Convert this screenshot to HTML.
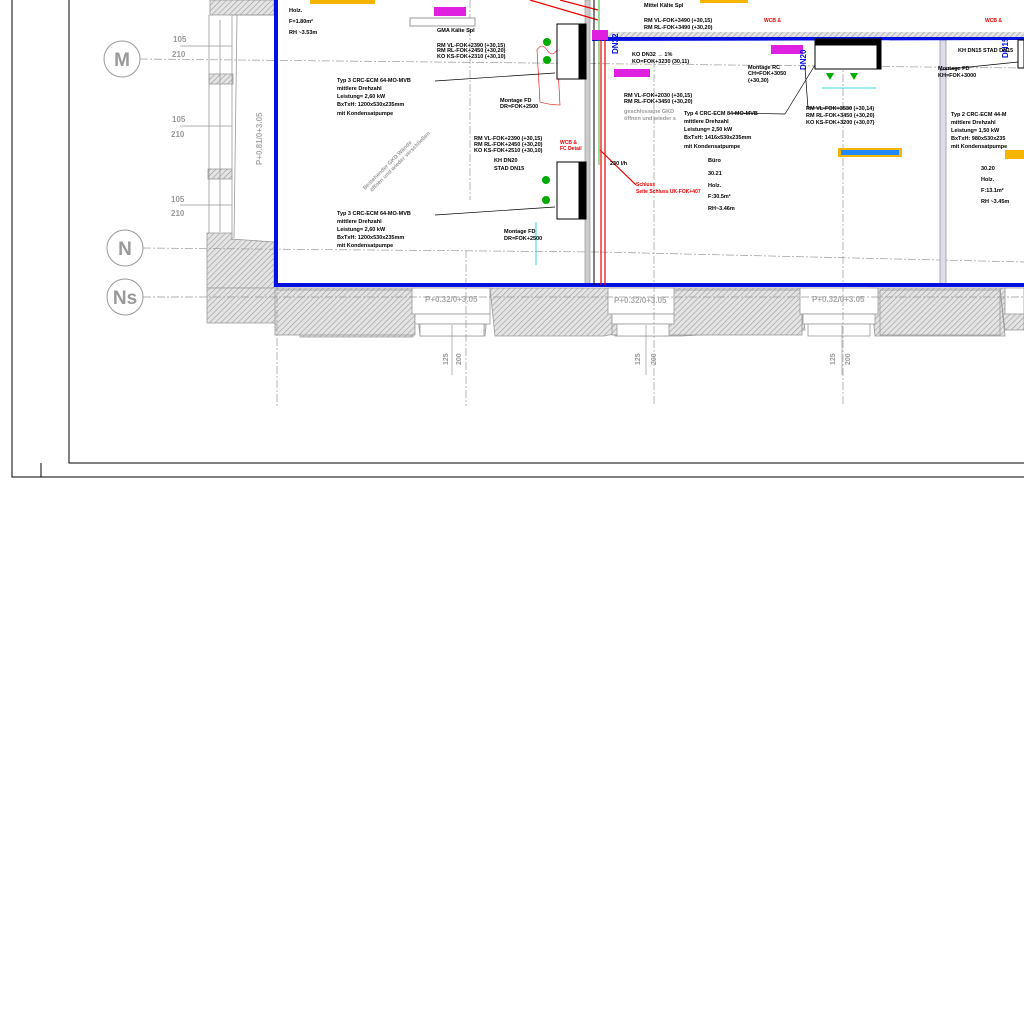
<!DOCTYPE html>
<html><head><meta charset="utf-8"><style>
html,body{margin:0;padding:0;background:#fff;width:1024px;height:1024px;overflow:hidden}
svg{display:block}
text{font-family:"Liberation Sans",sans-serif;font-weight:bold}
</style></head><body>
<svg width="1024" height="1024" viewBox="0 0 1024 1024" xmlns="http://www.w3.org/2000/svg">
<defs>
<pattern id="h" width="4" height="4" patternUnits="userSpaceOnUse" patternTransform="rotate(45)">
<rect width="4" height="4" fill="#e4e4e4"/><line x1="0" y1="0" x2="0" y2="4" stroke="#9a9a9a" stroke-width="1.2"/>
</pattern>
</defs>
<!-- frames -->
<g fill="none" stroke="#000" stroke-width="1">
<polyline points="12,0 12,477 1024,477"/>
<polyline points="69,0 69,463 1024,463"/>
<line x1="41" y1="463" x2="41" y2="477"/>
</g>
<!-- hatched walls -->
<g fill="url(#h)" stroke="#999" stroke-width="0.8">
<rect x="210" y="0" width="64" height="15"/>
<rect x="209" y="74" width="24" height="10"/>
<rect x="208" y="169" width="24" height="10"/>
<polygon points="207,233 232,233 232,239 274,242 274,288 300,288 300,337 413,337 413,288 207,288"/>
<polygon points="207,288 207,323 300,323 300,288"/>
<polygon points="415,288 490,288 485,336 420,336"/>
<polygon points="490,288 610,288 614,334 604,336 495,336"/>
<polygon points="610,288 800,288 805,330 681,336 615,336"/>
<polygon points="870,288 1000,288 1005,330 1024,330 1024,288 1000,288 1005,336 875,336"/>
<rect x="275" y="290" width="140" height="45"/>
<rect x="612" y="290" width="190" height="45"/>
<rect x="880" y="290" width="120" height="45"/>
</g>
<g fill="#fff" stroke="#999" stroke-width="0.8">
<rect x="412" y="288" width="78" height="26"/>
<rect x="415" y="314" width="75" height="10"/>
<rect x="420" y="324" width="64" height="12"/>
<rect x="608" y="288" width="66" height="26"/>
<rect x="612" y="314" width="62" height="10"/>
<rect x="617" y="324" width="52" height="12"/>
<rect x="800" y="288" width="78" height="26"/>
<rect x="803" y="314" width="72" height="10"/>
<rect x="808" y="324" width="62" height="12"/>
<rect x="1005" y="288" width="19" height="26"/>
</g>
<g fill="#aaa" font-size="8" font-weight="normal">
<text x="425" y="302">P+0.32/0+3.05</text>
<text x="614" y="303">P+0.32/0+3.05</text>
<text x="812" y="302">P+0.32/0+3.05</text>
<text transform="translate(262,165) rotate(-90)">P+0.81/0+3.05</text>
</g>
<!-- left wall window lines -->
<g stroke="#999" fill="none" stroke-width="0.8">
<line x1="209" y1="15" x2="209" y2="233"/><line x1="220" y1="20" x2="220" y2="232"/>
<line x1="232" y1="15" x2="232" y2="240"/><line x1="237" y1="15" x2="234" y2="238"/>
<line x1="232" y1="15" x2="274" y2="15"/>
<line x1="180" y1="46" x2="232" y2="46"/><line x1="180" y1="126" x2="232" y2="126"/><line x1="180" y1="205" x2="232" y2="205"/>
</g>
<g fill="#999" font-size="8"><text x="173" y="42">105</text><text x="172" y="57">210</text><text x="172" y="122">105</text><text x="171" y="137">210</text><text x="171" y="202">105</text><text x="171" y="216">210</text></g>
<!-- axis lines -->
<g stroke="#999" stroke-width="0.7" stroke-dasharray="8,2,2,2" fill="none">
<line x1="140" y1="59" x2="1024" y2="68"/>
<line x1="143" y1="248" x2="600" y2="252"/>
<line x1="600" y1="252" x2="1024" y2="262"/>
<line x1="143" y1="297" x2="1024" y2="297"/>
<line x1="277" y1="30" x2="277" y2="406"/>
<line x1="466" y1="250" x2="466" y2="406"/>
<line x1="654" y1="60" x2="654" y2="406"/>
<line x1="843" y1="60" x2="843" y2="406"/>
<line x1="470" y1="0" x2="470" y2="200"/>
</g>
<g fill="#fff" stroke="#999" stroke-width="1">
<circle cx="122" cy="59" r="18"/><circle cx="125" cy="248" r="18"/><circle cx="125" cy="297" r="18"/>
</g>
<g fill="#999" font-size="19" font-weight="normal" text-anchor="middle">
<text x="122" y="66">M</text><text x="125" y="255">N</text><text x="125" y="304">Ns</text>
</g>
<g fill="#999" font-size="7" font-weight="normal">
<text transform="translate(448,365) rotate(-90)">125</text><text transform="translate(461,365) rotate(-90)">200</text>
<text transform="translate(640,365) rotate(-90)">125</text><text transform="translate(656,365) rotate(-90)">200</text>
<text transform="translate(835,365) rotate(-90)">125</text><text transform="translate(850,365) rotate(-90)">200</text>
</g>
<g stroke="#999" stroke-width="0.7"><line x1="452" y1="325" x2="452" y2="375"/><line x1="646" y1="325" x2="646" y2="375"/><line x1="842" y1="325" x2="842" y2="375"/></g>
<!-- gray column -->
<rect x="940" y="40" width="6" height="245" fill="#dde" stroke="#999" stroke-width="0.8"/>
<rect x="585" y="0" width="5" height="285" fill="#ccc" stroke="#888" stroke-width="0.6"/>
<!-- blue walls -->
<g stroke="#0010e0" fill="none">
<polyline points="276,0 276,285 1024,285" stroke-width="4"/>
<line x1="592" y1="39" x2="1024" y2="38" stroke-width="4"/>
</g>
<rect x="592" y="32" width="432" height="5" fill="url(#h)"/>
<!-- red lines -->
<g stroke="#e00" stroke-width="1.2" fill="none">
<line x1="601" y1="40" x2="601" y2="285"/><line x1="605" y1="40" x2="605" y2="285"/>
<path d="M598,10 L560,0 M598,20 L530,0" />
<path d="M537,50 q5,-8 10,0 q5,8 10,0 L560,105 q-10,0 -20,-3 L537,50" stroke-width="0.6"/>
<line x1="600" y1="150" x2="636" y2="185"/>
</g>
<line x1="594" y1="0" x2="594" y2="285" stroke="#000" stroke-width="1"/>
<line x1="599" y1="0" x2="599" y2="165" stroke="#0a0" stroke-width="0.8"/>
<!-- units -->
<g stroke="#000" fill="#fff">
<rect x="557" y="24" width="28" height="55" stroke-width="1"/>
<rect x="579" y="24" width="7" height="55" fill="#000"/>
<rect x="557" y="162" width="28" height="57" stroke-width="1"/>
<rect x="579" y="162" width="7" height="57" fill="#000"/>
<rect x="815" y="39" width="66" height="30" stroke-width="1"/>
<rect x="815" y="39" width="66" height="6" fill="#000"/>
<rect x="877" y="39" width="4" height="30" fill="#000"/>
<rect x="1018" y="40" width="6" height="28"/>
</g>
<g fill="#0a0"><circle cx="547" cy="42" r="4"/><circle cx="547" cy="60" r="4"/><circle cx="546" cy="180" r="4"/><circle cx="546" cy="200" r="4"/>
<polygon points="826,73 834,73 830,80"/><polygon points="850,73 858,73 854,80"/></g>
<g stroke="#0cc" stroke-width="0.8" fill="none"><line x1="822" y1="88" x2="876" y2="88"/><line x1="536" y1="222" x2="536" y2="265"/></g>
<!-- color boxes -->
<rect x="434" y="7" width="32" height="9" fill="#e020e0"/>
<rect x="771" y="45" width="32" height="9" fill="#e020e0"/>
<rect x="614" y="69" width="36" height="8" fill="#e020e0"/>
<rect x="592" y="30" width="16" height="10" fill="#e020e0"/>
<rect x="410" y="18" width="65" height="8" fill="#fff" stroke="#999"/>
<rect x="310" y="0" width="65" height="4" fill="#f4b400"/>
<rect x="838" y="148" width="64" height="9" fill="#f4b400"/><rect x="841" y="150" width="58" height="5" fill="#28f"/>
<rect x="1005" y="150" width="19" height="9" fill="#f4b400"/>
<rect x="700" y="0" width="48" height="3" fill="#f4b400"/>
<g fill="#0010e0" font-size="8"><text transform="translate(618,54) rotate(-90)">DN32</text><text transform="translate(806,70) rotate(-90)">DN20</text><text transform="translate(1008,58) rotate(-90)">DN15</text></g>
<!-- leader lines -->
<g stroke="#000" stroke-width="0.7" fill="none">
<line x1="435" y1="81" x2="555" y2="73"/><line x1="435" y1="215" x2="555" y2="207"/>
<line x1="733" y1="113" x2="785" y2="114"/><line x1="785" y1="114" x2="815" y2="65"/>
<line x1="940" y1="70" x2="1018" y2="62"/>
<polyline points="805,68 808,108 852,108"/>
</g>
<!-- text blocks -->
<g fill="#000" font-size="5.5">
<text x="289" y="12">Holz.</text><text x="289" y="23">F=1.80m²</text><text x="289" y="34">RH ~3.53m</text>
<text x="337" y="82">Typ 3  CRC-ECM 64-MO-MVB</text><text x="337" y="90">mittlere Drehzahl</text><text x="337" y="98">Leistung= 2,60 kW</text><text x="337" y="106">BxTxH: 1200x530x235mm</text><text x="337" y="115">mit Kondensatpumpe</text>
<text x="337" y="215">Typ 3  CRC-ECM 64-MO-MVB</text><text x="337" y="223">mittlere Drehzahl</text><text x="337" y="231">Leistung= 2,60 kW</text><text x="337" y="239">BxTxH: 1200x530x235mm</text><text x="337" y="247">mit Kondensatpumpe</text>
<text x="684" y="115">Typ 4  CRC-ECM 84-MO-MVB</text><text x="684" y="123">mittlere Drehzahl</text><text x="684" y="131">Leistung= 2,50 kW</text><text x="684" y="139">BxTxH: 1416x530x235mm</text><text x="684" y="148">mit Kondensatpumpe</text>
<text x="951" y="116">Typ 2  CRC-ECM 44-M</text><text x="951" y="124">mittlere Drehzahl</text><text x="951" y="132">Leistung= 1,50 kW</text><text x="951" y="140">BxTxH: 980x530x235</text><text x="951" y="148">mit Kondensatpumpe</text>
<text x="708" y="162">Büro</text><text x="708" y="175">30.21</text><text x="708" y="187">Holz.</text><text x="708" y="198">F:30.5m²</text><text x="708" y="210">RH~3.46m</text>
<text x="981" y="170">30.20</text><text x="981" y="181">Holz.</text><text x="981" y="192">F:13.1m²</text><text x="981" y="203">RH ~3.45m</text>
<text x="437" y="32">GMA Kälte Spl</text><text x="437" y="47">RM VL-FOK+2390 (+30,15)</text><text x="437" y="52">RM RL-FOK+2450 (+30,20)</text><text x="437" y="58">KO KS-FOK+2310 (+30,10)</text>
<text x="500" y="102">Montage FD</text><text x="500" y="108">DR=FOK+2500</text>
<text x="474" y="140">RM VL-FOK+2390 (+30,15)</text><text x="474" y="146">RM RL-FOK+2450 (+30,20)</text><text x="474" y="152">KO KS-FOK+2510 (+30,10)</text>
<text x="494" y="162">KH DN20</text><text x="494" y="170">STAD DN15</text>
<text x="504" y="233">Montage FD</text><text x="504" y="240">DR=FOK+2500</text>
<text x="644" y="7">Mittel Kälte Spl</text><text x="644" y="22">RM VL-FOK+3490 (+30,15)</text><text x="644" y="29">RM RL-FOK+3490 (+30,20)</text>
<text x="632" y="56">KO DN32 → 1%</text><text x="632" y="63">KO=FOK+3230 (30,11)</text>
<text x="624" y="97">RM VL-FOK+2030 (+30,15)</text><text x="624" y="103">RM RL-FOK+3450 (+30,20)</text>
<text x="748" y="69">Montage RC</text><text x="748" y="75">CH=FOK+3050</text><text x="748" y="82">(+30,30)</text>
<text x="806" y="110">RM VL-FOK+3530 (+30,14)</text><text x="806" y="117">RM RL-FOK+3450 (+30,20)</text><text x="806" y="124">KO KS-FOK+3200 (+30,07)</text>
<text x="938" y="70">Montage FD</text><text x="938" y="77">KH=FOK+3000</text>
<text x="958" y="52">KH DN15 STAD DN15</text>
<text x="610" y="165">230 l/h</text>
</g>
<g fill="#e00" font-size="5"><text x="560" y="144">WCB &amp;</text><text x="560" y="150">FC Detail</text><text x="636" y="186">Schluss</text><text x="636" y="193">Seite Schluss UK-FOK+407</text><text x="764" y="22">WCB &amp;</text><text x="985" y="22">WCB &amp;</text></g>
<g fill="#999" font-size="5.5" font-weight="normal"><text x="624" y="113">geschlossene GKD</text><text x="624" y="120">öffnen und wieder s</text>
<text transform="translate(365,190) rotate(-45)">Bestehender GKD Wände</text><text transform="translate(372,192) rotate(-45)">öffnen und wieder verschließen</text></g>
</svg>
</body></html>
